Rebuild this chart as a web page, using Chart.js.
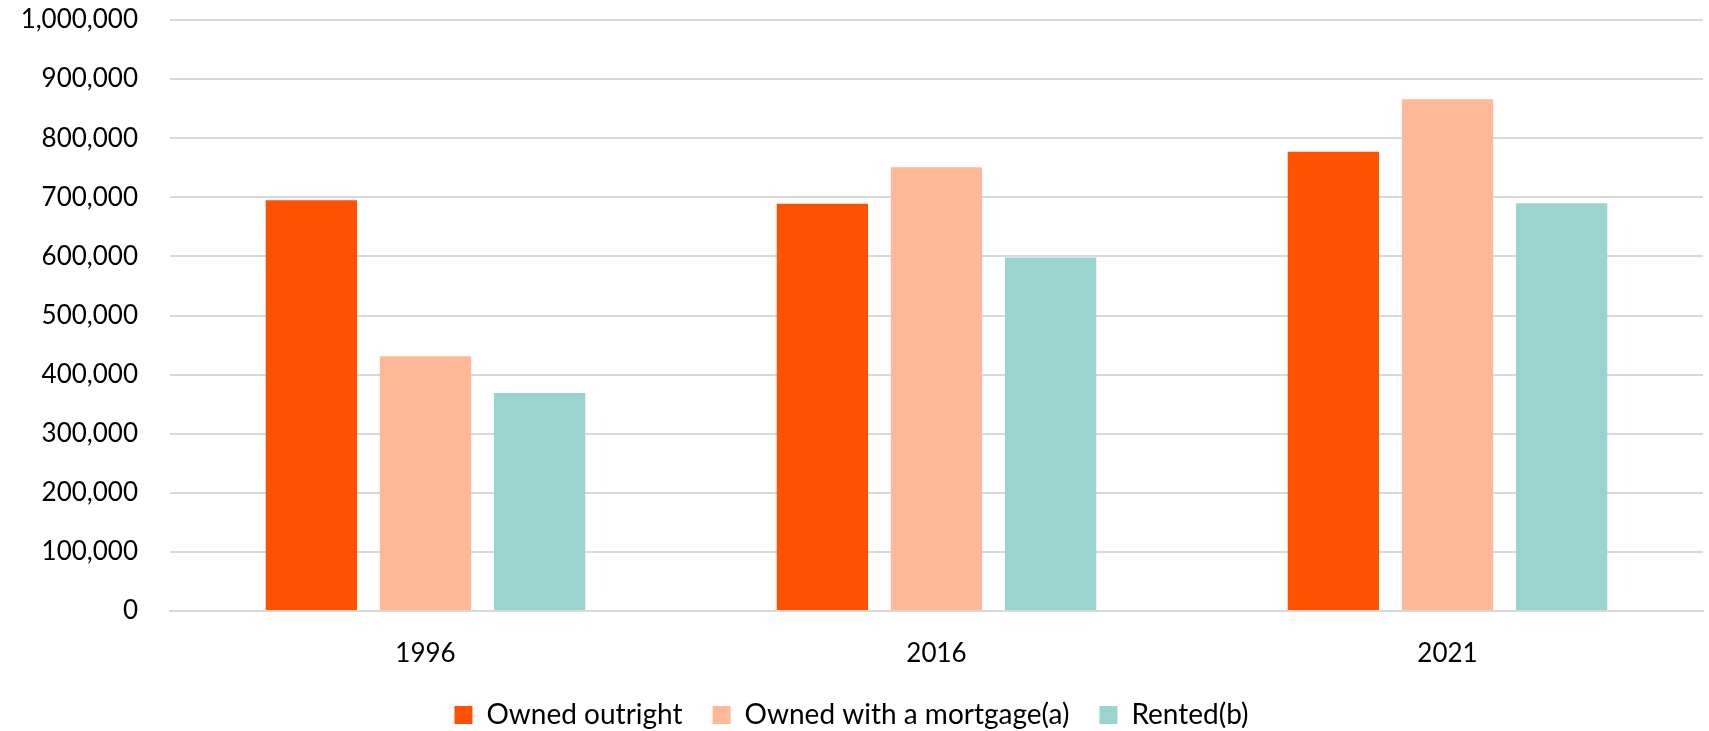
<!DOCTYPE html>
<html>
<head>
<meta charset="utf-8">
<script src="https://cdn.jsdelivr.net/npm/chart.js@4"></script>
<style>
  html, body { margin: 0; padding: 0; background: #fff; }
  #wrap { width: 1709px; height: 731px; }
</style>
</head>
<body>
<div id="wrap"><canvas id="tenureChart"></canvas></div>
<script>
const years = ['1996', '2016', '2021'];
const ownedOutright = [695000, 689000, 777000];
const ownedMortgage = [431000, 751000, 866000];
const rented = [369000, 598000, 690000];

const seriesNames = ['Owned outright', 'Owned with a mortgage(a)', 'Rented(b)'];
const seriesColors = ['#FF5100', '#FFB998', '#9BD4CF'];

Chart.defaults.font.family = "Lato, 'Open Sans', sans-serif";
Chart.defaults.color = '#000';

const ctx = document.getElementById('tenureChart').getContext('2d');
new Chart(ctx, {
    type: 'bar',
    data: {
        labels: years,
        datasets: [ownedOutright, ownedMortgage, rented].map((vals, i) => ({
            label: seriesNames[i],
            data: vals,
            backgroundColor: seriesColors[i],
            borderWidth: 0,
            categoryPercentage: 0.67,
            barPercentage: 0.8
        }))
    },
    options: {
        responsive: true,
        maintainAspectRatio: false,
        animation: false,
        layout: { padding: { left: 0, right: 6, top: 0, bottom: 0 } },
        plugins: {
            tooltip: { enabled: false },
            legend: {
                position: 'bottom',
                maxHeight: 60,
                labels: {
                    boxWidth: 18,
                    boxHeight: 18,
                    padding: 30,
                    font: { size: 28 },
                    color: '#000'
                }
            }
        },
        scales: {
            x: {
                grid: { display: false, drawTicks: false },
                border: { color: '#d9d9d9', width: 2 },
                ticks: { font: { size: 26 }, padding: 27 },
                afterFit: scale => { scale.height = 60; }
            },
            y: {
                min: 0,
                max: 1000000,
                ticks: {
                    stepSize: 100000,
                    font: { size: 26 },
                    padding: 32,
                    callback: v => v.toLocaleString('en-US')
                },
                grid: { color: '#d9d9d9', lineWidth: 2, drawTicks: false },
                border: { display: false },
                afterFit: scale => {
                    scale.width = 170;
                    // tick padding would otherwise push the plot top down
                    scale.paddingTop = 20;
                    scale.paddingBottom = 0;
                }
            }
        }
    }
});
</script>
</body>
</html>
